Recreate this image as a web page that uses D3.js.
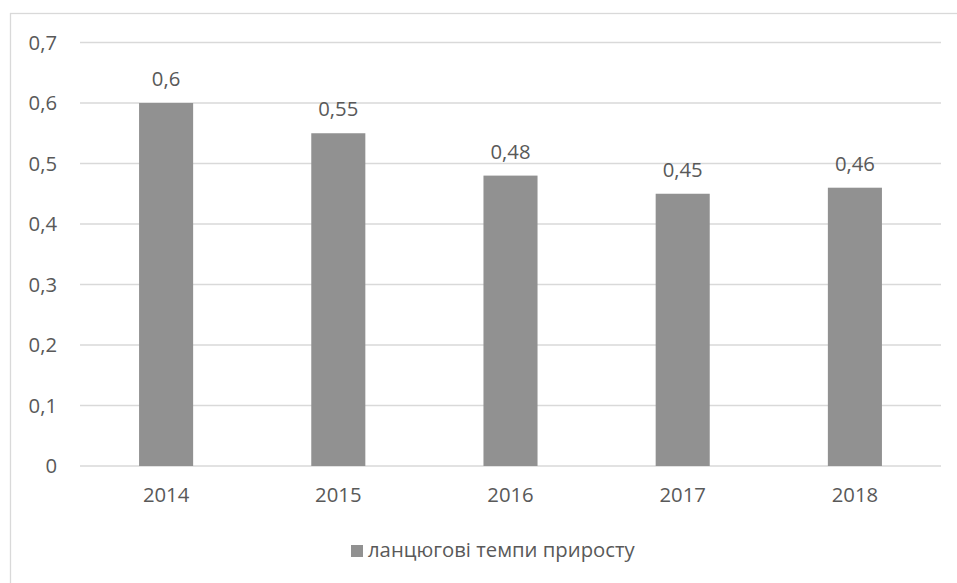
<!DOCTYPE html>
<html>
<head>
<meta charset="utf-8">
<script src="https://cdn.jsdelivr.net/npm/d3@7"></script>
<style>
html,body{margin:0;padding:0;background:#fff;}
svg{display:block;}
text{font-family:"Open Sans","Noto Sans",sans-serif;fill:#595959;}
</style>
</head>
<body>
<svg id="chart" width="957" height="583"></svg>
<script>
const categories = ["2014", "2015", "2016", "2017", "2018"];
const values = [0.6, 0.55, 0.48, 0.45, 0.46];
const yTicks = [0, 0.1, 0.2, 0.3, 0.4, 0.5, 0.6, 0.7];
const seriesName = "ланцюгові темпи приросту";

const svg = d3.select("#chart");
const W = 957, H = 583;
const m = {left: 80, right: 16, top: 42.5, bottom: 117};
const plotW = W - m.left - m.right;
const plotH = H - m.top - m.bottom;
const fmt = d => String(d).replace(".", ",");
const FS = 20.3;

// frame
svg.append("rect").attr("x", 10.5).attr("y", 13.5).attr("width", W).attr("height", H)
  .attr("fill", "none").attr("stroke", "#d9d9d9").attr("stroke-width", 1.3);

const x = d3.scaleBand().domain(categories).range([m.left, m.left + plotW])
  .paddingInner(0.686).paddingOuter(0.343);
const y = d3.scaleLinear().domain([0, 0.7]).range([m.top + plotH, m.top]);

// gridlines
svg.append("g").selectAll("line").data(yTicks).join("line")
  .attr("x1", m.left).attr("x2", m.left + plotW)
  .attr("y1", d => y(d)).attr("y2", d => y(d))
  .attr("stroke", "#d9d9d9").attr("stroke-width", 1.3);

// y axis labels
const yAxis = d3.axisLeft(y).tickValues(yTicks).tickFormat(fmt).tickSize(0).tickPadding(23);
const gy = svg.append("g").attr("transform", `translate(${m.left},0)`).call(yAxis);
gy.select(".domain").remove();
gy.selectAll("text").attr("font-size", FS).attr("fill", "#595959")
  .style("font-family", '"Open Sans","Noto Sans",sans-serif');

// x axis labels
const xAxis = d3.axisBottom(x).tickSize(0).tickPadding(22);
const gx = svg.append("g").attr("transform", `translate(0,${y(0)})`).call(xAxis);
gx.select(".domain").remove();
gx.selectAll("text").attr("font-size", FS).attr("fill", "#595959")
  .style("font-family", '"Open Sans","Noto Sans",sans-serif');

// bars
svg.append("g").selectAll("rect").data(values).join("rect")
  .attr("x", (d, i) => x(categories[i]))
  .attr("width", x.bandwidth())
  .attr("y", d => y(d))
  .attr("height", d => y(0) - y(d))
  .attr("fill", "#919191");

// data labels
svg.append("g").selectAll("text").data(values).join("text")
  .attr("x", (d, i) => x(categories[i]) + x.bandwidth() / 2)
  .attr("y", d => y(d) - 17)
  .attr("text-anchor", "middle")
  .attr("font-size", FS)
  .text(d => fmt(d));

// legend
const lg = svg.append("g");
lg.append("rect").attr("x", 351).attr("y", 545).attr("width", 12).attr("height", 12).attr("fill", "#919191");
lg.append("text").attr("x", 368).attr("y", 557).attr("font-size", FS).text(seriesName);
</script>
</body>
</html>
